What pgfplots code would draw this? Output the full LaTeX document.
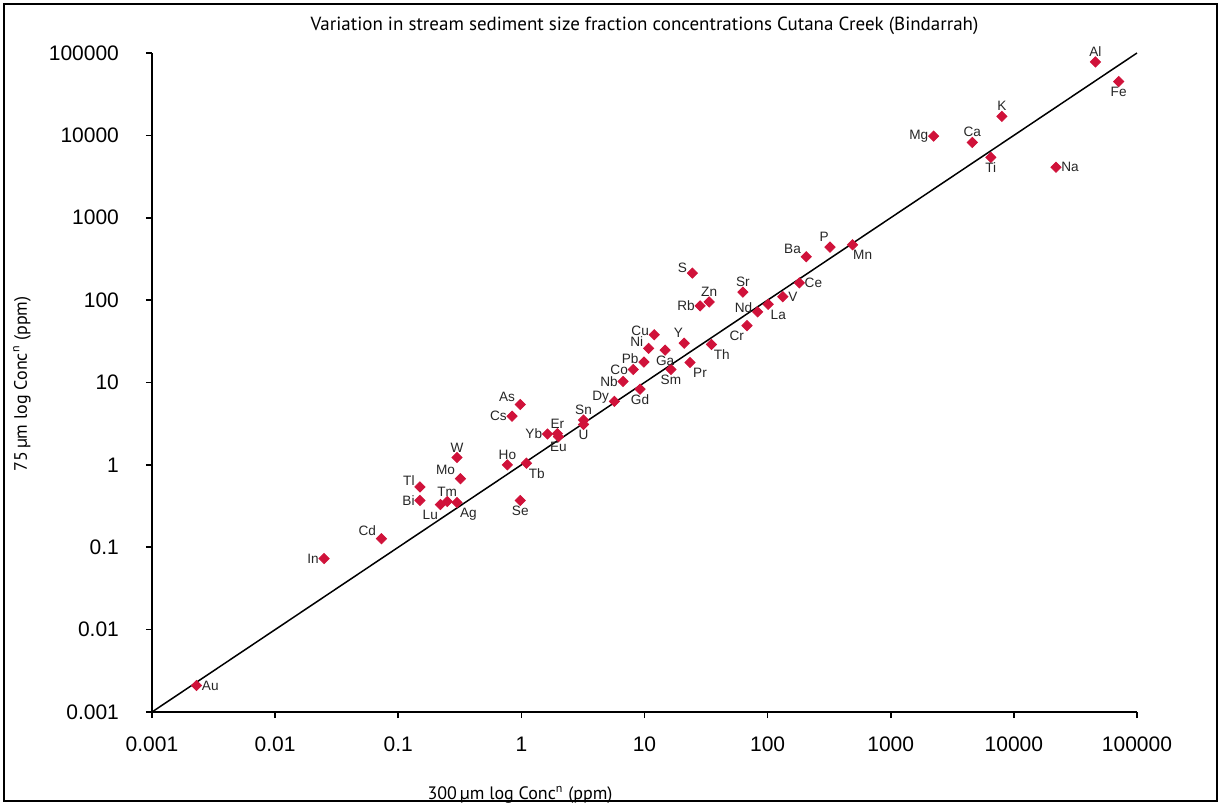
\documentclass[border=0pt]{standalone}
\usepackage{fontspec}
\setmainfont{Liberation Sans}
\newfontfamily\titlefont{PT Sans}
\usepackage{pgfplots}
\pgfplotsset{compat=1.18}
\definecolor{mk}{RGB}{208,18,58}
\pgfplotsset{pts/.style={only marks, mark=square*, mark size=1.8pt,
  mark options={rotate=45, fill=mk, draw=mk},
  point meta=explicit symbolic, nodes near coords,
  every node near coord/.append style={font=\fontsize{6.8}{7}\selectfont, inner sep=2.5pt, text=black!85}}}
\newcommand\grp[2]{\addplot[pts, every node near coord/.append style={anchor=#1}] table[row sep=\\, x=x, y=y, meta=lab] {lab x y\\ #2};}
\begin{document}
\begin{tikzpicture}
\useasboundingbox (-76pt,-46.5pt) rectangle (534.5pt,356pt);
\draw[line width=1.2pt] (-74pt,-44.5pt) rectangle (532.5pt,354pt);
\begin{axis}[
  at={(0pt,0pt)}, anchor=south west,
  scale only axis, width=492.5pt, height=329.5pt,
  xmode=log, ymode=log,
  xmin=0.001, xmax=100000, ymin=0.001, ymax=100000,
  axis lines*=left,
  axis line style={line width=1pt},
  xtick={0.001,0.01,0.1,1,10,100,1000,10000,100000},
  ytick={0.001,0.01,0.1,1,10,100,1000,10000,100000},
  xticklabels={0.001,0.01,0.1,1,10,100,1000,10000,100000},
  yticklabels={0.001,0.01,0.1,1,10,100,1000,10000,100000},
  xminorticks=false, yminorticks=false,
  tick align=outside,
  major tick length=3pt,
  tick style={black, line width=0.8pt},
  /pgf/number format/assume math mode=true,
  ticklabel style={font=\fontsize{10.5}{12}\selectfont},
  xticklabel style={yshift=-6pt},
  yticklabel style={xshift=-10pt},
  clip=false,
]
\addplot[black, line width=0.75pt, no marks] coordinates {(0.001,0.001) (100000,100000)};
% label to the right
\grp{180}{Au 0.0023 0.0021\\ V 133 110\\ Ce 181 162\\ Na 22000 4100\\}
% label to the left
\grp{0}{In 0.025 0.073\\ Bi 0.15 0.37\\ Cs 0.84 3.9\\ Yb 1.63 2.37\\ Nb 6.7 10.3\\ Co 8.1 14.4\\ Rb 28.3 85\\ Mg 2230 9800\\}
% label up-left
\grp{-30}{Cd 0.073 0.127\\ Tl 0.15 0.54\\ Mo 0.32 0.68\\ Ni 10.8 26\\ S 24.5 213\\ Ba 206 336\\ As 0.98 5.4\\}
\grp{-15}{Dy 5.7 5.9\\ Pb 9.9 17.7\\ Cu 12 38\\ Nd 83 72\\}
\grp{-60}{Y 21 30\\ P 321 440\\}
% label above
\grp{270}{Tm 0.25 0.36\\ W 0.30 1.23\\ Ho 0.77 1.0\\ Er 1.96 2.4\\ Sn 3.2 3.5\\ Zn 33.5 95\\ Sr 63 125\\ Ca 4600 8200\\ K 8000 17000\\ Al 46000 78000\\}
% label below
\grp{90}{Se 0.98 0.37\\ Eu 2.0 2.2\\ U 3.2 3.1\\ Gd 9.2 8.3\\ Sm 16.4 14.4\\ Ti 6500 5400\\ Fe 71000 45000\\ Ga 14.7 24.7\\}
% label below-left
\grp{45}{Lu 0.22 0.33\\ Cr 68 49\\}
% label below-right
\grp{135}{Ag 0.30 0.35\\ Tb 1.1 1.05\\ Pr 23.4 17.5\\ Th 35 29\\ La 101 89\\ Mn 490 470\\}
\end{axis}
\node[font=\titlefont\fontsize{9.5}{11}\selectfont] at (246.25pt,343pt) {Variation in stream sediment size fraction concentrations Cutana Creek (Bindarrah)};
\node[font=\titlefont\fontsize{9}{11}\selectfont] at (184pt,-41.5pt) {300\,µm log Conc\textsuperscript{n} (ppm)};
\node[font=\titlefont\fontsize{9}{11}\selectfont, rotate=90] at (-65pt,164pt) {75\,µm log Conc\textsuperscript{n} (ppm)};
\end{tikzpicture}
\end{document}
